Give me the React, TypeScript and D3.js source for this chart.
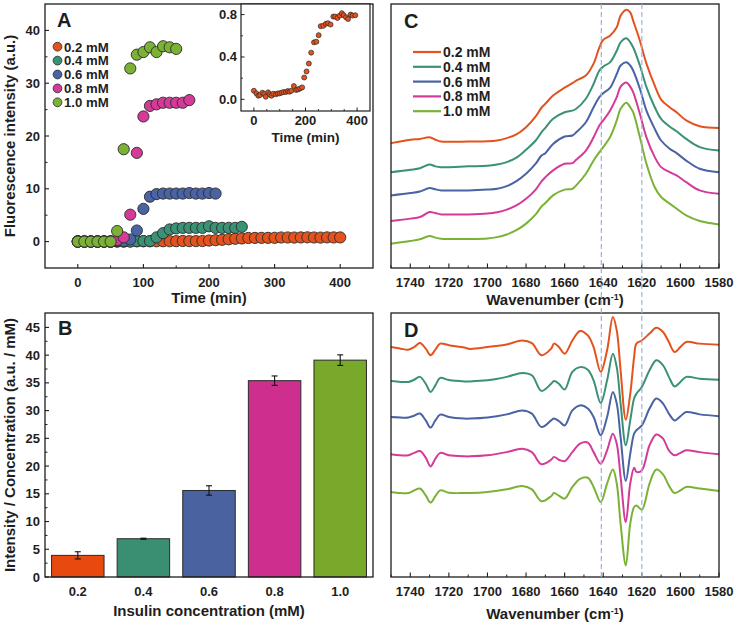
import React from 'react';
import * as d3 from 'd3';

// ---------- Panel A data ----------
const concLabels = ['0.2 mM', '0.4 mM', '0.6 mM', '0.8 mM', '1.0 mM'];
const barCats = ['0.2', '0.4', '0.6', '0.8', '1.0'];

const tA02 = [0,10,20,30,40,50,60,70,80,90,100,110,120,130,140,150,160,170,180,190,200,210,220,230,240,250,260,270,280,290,300,310,320,330,340,350,360,370,380,390,400];
const vA02 = [0.08,0.05,0.04,0.05,0.06,0.04,0.06,0.04,0.05,0.05,0.06,0.06,0.06,0.07,0.07,0.08,0.12,0.09,0.1,0.11,0.2,0.27,0.34,0.44,0.54,0.6,0.69,0.7,0.71,0.71,0.72,0.78,0.78,0.77,0.79,0.81,0.78,0.76,0.8,0.79,0.79];
const tA04 = [0,10,20,30,40,50,60,70,80,90,100,110,120,130,140,150,160,170,180,190,200,210,220,230,240,250];
const vA04 = [0,0,0,0,0,0,0,0,0,0.1,0.1,0.1,0.8,1.6,2.3,2.5,2.6,2.6,2.6,2.6,2.9,2.6,2.6,2.6,2.6,2.8];
const tA06 = [0,10,20,30,40,50,60,70,80,90,100,110,120,130,140,150,160,170,180,190,200,210];
const vA06 = [0,0,0,0,0,0,0.1,0.1,0.4,2.1,6.2,8.5,9.0,9.1,9.1,9.1,9.1,9.2,9.1,9.1,9.2,9.1];
const tA08 = [0,10,20,30,40,50,60,70,80,90,100,110,120,130,140,150,160,170];
const vA08 = [0,0,0,0,0,0,0.3,0.8,5.1,16.8,23.7,25.7,26.0,26.3,26.3,26.3,26.3,26.8];
const tA10 = [0,10,20,30,40,50,60,70,80,90,100,110,120,130,140,150];
const vA10 = [0,0,0,0,0,0,2.0,17.5,32.8,35.4,35.9,36.8,35.9,37.0,36.8,36.5];

// inset (0.2 mM)
const tInset = [0,10,17,24,33,40,46,55,61,68,75,85,92,99,107,115,124,131,138,145,155,164,172,179,187,195,204,213,222,233,242,251,259,269,279,287,297,308,315,324,333,341,348,357,365,375,383,393];
const vInset = [0.081,0.056,0.034,0.041,0.063,0.05,0.025,0.066,0.047,0.034,0.053,0.047,0.056,0.056,0.063,0.069,0.069,0.078,0.072,0.081,0.125,0.088,0.094,0.103,0.113,0.206,0.263,0.338,0.441,0.538,0.544,0.606,0.691,0.694,0.713,0.719,0.706,0.781,0.781,0.769,0.791,0.813,0.794,0.775,0.759,0.8,0.791,0.794];

// ---------- Panel B data ----------
const barValues = [3.9, 6.9, 15.6, 35.4, 39.1];
const barErrors = [0.65, 0.1, 0.85, 0.85, 0.95];

// ---------- Panel C data ----------
const wnC = [1750,1740,1735,1730,1727,1724,1720,1710,1700,1695,1690,1685,1680,1675,1672,1670,1666,1660,1656,1654,1649,1645,1642,1640,1636.5,1633,1631,1628,1626,1624.5,1621,1617.6,1613.3,1610,1605.6,1602,1597,1590,1580];
const c02 = [47.3,48.6,48.9,49.5,48.6,47.9,47.8,47.9,48.0,48.3,49.2,50.6,53.3,57.4,60.7,62.2,65.3,68.3,70.0,71.0,72.9,77.4,83.6,86.4,88.0,91.2,95.6,97.8,96.8,93.7,86.1,77.4,69.1,63.8,60.9,59.0,55.9,53.7,53.0];
const c04 = [36.3,37.2,37.8,39.2,38.5,38.2,38.2,38.5,38.7,39.2,40.1,41.8,44.8,48.3,51.4,53.1,56.5,59.0,59.6,60.3,64.1,69.7,74.8,76.3,77.9,82.3,85.5,87.0,85.5,83.6,76.7,68.5,60.9,56.5,53.6,51.8,48.9,45.8,44.5];
const c06 = [27.5,28.4,29.0,30.3,29.8,29.4,29.4,29.4,29.7,30.0,31.0,32.9,35.7,39.5,42.6,43.5,47.0,49.8,50.2,51.4,55.2,60.9,64.7,66.2,68.2,73.5,76.7,77.9,76.7,74.8,67.9,59.6,52.7,48.3,45.2,43.5,40.7,37.6,36.3];
const c08 = [17.8,18.7,19.3,21.2,20.8,20.3,20.3,20.3,20.6,21.1,22.1,23.7,26.2,29.7,32.8,34.4,37.0,39.5,39.7,41.0,44.5,49.5,54.0,55.9,59.6,64.7,68.7,70.3,68.7,66.6,58.4,49.5,42.0,38.2,36.3,35.1,32.5,29.4,28.1];
const c10 = [9.2,10.2,10.9,12.1,11.5,11.1,11.0,11.0,11.2,11.7,12.7,14.3,16.8,20.3,23.3,24.6,27.5,29.7,30.0,31.3,35.7,40.7,43.9,45.8,49.5,55.9,60.3,62.6,60.9,59.0,49.5,39.5,30.6,26.9,24.4,22.5,19.9,17.8,16.5];

// ---------- Panel D data ----------
const wnD = [1750,1745,1741,1738,1735,1732,1729.5,1727,1724.5,1720,1712,1709,1700,1690,1682,1677,1672,1667,1665.5,1663,1660,1656,1652,1648,1645,1641.3,1638,1635,1633,1631,1628.3,1626,1624,1622.8,1620,1616,1612.5,1609,1606,1603,1600,1597,1590,1580];
const d02 = [87.1,86.5,86.1,87.1,88.6,86.5,84.0,86.1,88.4,87.8,86.9,86.4,87.1,88.1,89.6,88.6,84.0,86.5,88.4,87.1,84.6,89.6,93.2,91.5,87.1,77.7,85.9,98.5,93.4,78.3,59.6,69.4,83.3,88.4,89.6,92.2,94.4,92.8,89.0,85.2,87.1,89.0,88.4,88.0];
const d04 = [74.2,73.9,73.9,74.7,75.8,73.2,70.1,72.6,75.4,74.6,74.1,74.1,74.5,75.8,77.3,76.4,70.5,73.2,74.2,73.2,71.0,77.7,79.5,78.5,74.5,65.9,74.5,84.6,79.5,65.7,49.9,59.3,67.6,69.4,72.0,78.3,82.1,80.2,75.8,72.2,73.9,75.8,75.1,74.7];
const d06 = [60.6,60.4,60.4,61.1,61.9,59.3,56.6,59.3,61.5,60.6,60.0,60.0,60.4,61.6,63.1,61.9,56.8,59.3,60.0,59.1,57.4,63.1,65.0,63.8,60.6,53.7,60.6,70.1,65.7,53.0,36.4,46.7,54.3,55.6,57.4,63.8,67.6,65.7,61.9,59.3,60.9,62.5,61.6,60.9];
const d08 = [46.5,46.1,46.1,47.0,47.7,45.2,41.9,44.8,47.0,46.1,45.7,45.7,46.1,47.3,48.6,47.3,42.7,44.4,45.5,44.4,43.9,47.3,50.5,50.9,47.3,42.9,48.0,54.3,50.5,37.9,20.8,35.4,41.4,39.8,40.4,49.9,54.0,52.4,48.0,46.1,47.0,48.0,47.3,46.5];
const d10 = [32.2,31.8,31.8,32.8,33.5,30.9,28.2,30.6,32.8,31.9,31.8,31.8,32.2,33.2,34.5,33.2,28.7,30.6,31.8,30.8,29.7,34.1,37.2,37.6,34.1,28.4,35.4,40.7,35.4,20.2,4.4,20.2,26.5,27.1,25.5,35.4,40.7,38.9,34.7,31.8,32.8,34.1,33.5,32.6];

const wnTicksMajor = [1740,1720,1700,1680,1660,1640,1620,1600,1580];
const wnTicksMinor = [1750,1730,1710,1690,1670,1650,1630,1610,1590];
const dashedWn = [1641, 1620];

const colors = ['#E4531E', '#3A9176', '#4A63A5', '#D43A98', '#7BB236'];
const barColors = ['#E8490F', '#3A8E72', '#4A62A0', '#CE2E8E', '#78A92A'];

const F = "'Liberation Sans', Arial, Helvetica, sans-serif";
const INK = '#1e1e1e';

function Frame({ x0, x1, y0, y1 }: any) {
  return <rect x={x0} y={y0} width={x1 - x0} height={y1 - y0} fill="none" stroke={INK} strokeWidth={1.3} />;
}

export default function App() {
  // Panel A
  const A = { x0: 45, x1: 373, y0: 4, y1: 268 };
  const xA = d3.scaleLinear().domain([-50, 450]).range([A.x0, A.x1]);
  const yA = d3.scaleLinear().domain([-5, 45]).range([A.y1, A.y0]);
  const seriesA = [
    { t: tA02, v: vA02 },
    { t: tA04, v: vA04 },
    { t: tA06, v: vA06 },
    { t: tA08, v: vA08 },
    { t: tA10, v: vA10 },
  ];
  // inset
  const I = { x0: 241, x1: 370, y0: 4, y1: 111 };
  const xI = d3.scaleLinear().domain([-50, 450]).range([I.x0, I.x1]);
  const yI = d3.scaleLinear().domain([-0.11, 0.9]).range([I.y1, I.y0]);

  // Panel B
  const B = { x0: 45, x1: 373, y0: 313, y1: 577 };
  const xB = d3.scaleBand().domain(barCats).range([B.x0, B.x1]).paddingInner(0.2).paddingOuter(0.1);
  const yB = d3.scaleLinear().domain([0, 47.6]).range([B.y1, B.y0]);

  // Panel C / D
  const C = { x0: 391, x1: 719, y0: 4, y1: 268 };
  const D = { x0: 391, x1: 719, y0: 313, y1: 577 };
  const xW = d3.scaleLinear().domain([1750, 1580]).range([C.x0, C.x1]);
  const yC = d3.scaleLinear().domain([0, 100]).range([C.y1, C.y0]);
  const yD = d3.scaleLinear().domain([0, 100]).range([D.y1, D.y0]);
  const cSeries = [c02, c04, c06, c08, c10];
  const dSeries = [d02, d04, d06, d08, d10];
  const lineC = (vals: number[]) =>
    d3.line<number>().x((_, i) => xW(wnC[i])).y((v) => yC(v)).curve(d3.curveCatmullRom.alpha(0.5))(vals) || '';
  const lineD = (vals: number[]) =>
    d3.line<number>().x((_, i) => xW(wnD[i])).y((v) => yD(v)).curve(d3.curveCatmullRom.alpha(0.5))(vals) || '';

  const tickFont = { fontFamily: F, fontWeight: 700, fontSize: 13, fill: INK } as any;
  const titleFont = { fontFamily: F, fontWeight: 700, fontSize: 15, fill: INK } as any;
  const letterFont = { fontFamily: F, fontWeight: 700, fontSize: 20, fill: INK } as any;

  return (
    <svg width={739} height={625} style={{ position: 'fixed', left: 0, top: 0, background: '#fff' }}>
      <rect x={0} y={0} width={739} height={625} fill="#fff" />

      {/* ================= Panel A ================= */}
      <g>
        {[0, 10, 20, 30, 40].map((v) => (
          <g key={'ay' + v}>
            <line x1={A.x0} x2={A.x0 + 4} y1={yA(v)} y2={yA(v)} stroke={INK} strokeWidth={1.1} />
            <text x={A.x0 - 5} y={yA(v) + 4.5} textAnchor="end" {...tickFont}>{v}</text>
          </g>
        ))}
        {[5, 15, 25, 35].map((v) => (
          <line key={'aym' + v} x1={A.x0} x2={A.x0 + 2.5} y1={yA(v)} y2={yA(v)} stroke={INK} strokeWidth={1} />
        ))}
        {[0, 100, 200, 300, 400].map((v) => (
          <g key={'ax' + v}>
            <line x1={xA(v)} x2={xA(v)} y1={A.y1} y2={A.y1 - 4} stroke={INK} strokeWidth={1.1} />
            <text x={xA(v)} y={A.y1 + 19} textAnchor="middle" {...tickFont}>{v}</text>
          </g>
        ))}
        {[50, 150, 250, 350].map((v) => (
          <line key={'axm' + v} x1={xA(v)} x2={xA(v)} y1={A.y1} y2={A.y1 - 2.5} stroke={INK} strokeWidth={1} />
        ))}
        {seriesA.map((s, si) => (
          <g key={'sa' + si}>
            {s.t.map((t, i) => (
              <circle key={i} cx={xA(t)} cy={yA(s.v[i])} r={5.6} fill={colors[si]} stroke="#2a2a2a" strokeWidth={0.9} />
            ))}
          </g>
        ))}
        <Frame {...A} />
        <text x={57} y={27} {...letterFont}>A</text>
        {concLabels.map((l, i) => (
          <g key={'la' + i}>
            <circle cx={57.5} cy={46.7 + i * 13.9} r={4.4} fill={colors[i]} stroke="#2a2a2a" strokeWidth={0.8} />
            <text x={64} y={46.7 + i * 13.9 + 4.8} fontFamily={F} fontWeight={700} fontSize={13.2} fill={INK}>{l}</text>
          </g>
        ))}
        <text x={(A.x0 + A.x1) / 2} y={303} textAnchor="middle" {...titleFont}>Time (min)</text>
        <text transform={`translate(15,${(A.y0 + A.y1) / 2}) rotate(-90)`} textAnchor="middle" {...titleFont}>
          Fluorescence intensity (a.u.)
        </text>

        {/* inset */}
        <rect x={I.x0} y={I.y0} width={I.x1 - I.x0} height={I.y1 - I.y0} fill="#fff" stroke={INK} strokeWidth={1.2} />
        {[0, 0.4, 0.8].map((v) => (
          <g key={'iy' + v}>
            <line x1={I.x0} x2={I.x0 + 3.5} y1={yI(v)} y2={yI(v)} stroke={INK} strokeWidth={1} />
            <text x={I.x0 - 4} y={yI(v) + 4.5} textAnchor="end" {...tickFont}>{v.toFixed(1)}</text>
          </g>
        ))}
        {[0.2, 0.6].map((v) => (
          <line key={'iym' + v} x1={I.x0} x2={I.x0 + 2} y1={yI(v)} y2={yI(v)} stroke={INK} strokeWidth={0.9} />
        ))}
        {[0, 200, 400].map((v) => (
          <g key={'ix' + v}>
            <line x1={xI(v)} x2={xI(v)} y1={I.y1} y2={I.y1 - 3.5} stroke={INK} strokeWidth={1} />
            <text x={xI(v)} y={I.y1 + 14} textAnchor="middle" {...tickFont}>{v}</text>
          </g>
        ))}
        {[50, 100, 150, 250, 300, 350].map((v) => (
          <line key={'ixm' + v} x1={xI(v)} x2={xI(v)} y1={I.y1} y2={I.y1 - 2} stroke={INK} strokeWidth={0.9} />
        ))}
        {tInset.map((t, i) => (
          <circle key={'ip' + i} cx={xI(t)} cy={yI(vInset[i])} r={2.5} fill={colors[0]} stroke="#2a2a2a" strokeWidth={0.7} />
        ))}
        <text x={(I.x0 + I.x1) / 2} y={142} textAnchor="middle" fontFamily={F} fontWeight={700} fontSize={13.5} fill={INK}>Time (min)</text>
      </g>

      {/* ================= Panel B ================= */}
      <g>
        {[0, 5, 10, 15, 20, 25, 30, 35, 40, 45].map((v) => (
          <g key={'by' + v}>
            <line x1={B.x0} x2={B.x0 + 4} y1={yB(v)} y2={yB(v)} stroke={INK} strokeWidth={1.1} />
            <text x={B.x0 - 5} y={yB(v) + 4.5} textAnchor="end" {...tickFont}>{v}</text>
          </g>
        ))}
        {[2.5, 7.5, 12.5, 17.5, 22.5, 27.5, 32.5, 37.5, 42.5].map((v) => (
          <line key={'bym' + v} x1={B.x0} x2={B.x0 + 2.5} y1={yB(v)} y2={yB(v)} stroke={INK} strokeWidth={1} />
        ))}
        {barCats.map((c, i) => {
          const x = xB(c) as number;
          const w = xB.bandwidth();
          const cx = x + w / 2;
          return (
            <g key={'bar' + c}>
              <rect x={x} y={yB(barValues[i])} width={w} height={yB(0) - yB(barValues[i])} fill={barColors[i]} stroke="#2a2a2a" strokeWidth={1} />
              <line x1={cx} x2={cx} y1={yB(barValues[i] - barErrors[i])} y2={yB(barValues[i] + barErrors[i])} stroke="#111" strokeWidth={1.1} />
              <line x1={cx - 3} x2={cx + 3} y1={yB(barValues[i] - barErrors[i])} y2={yB(barValues[i] - barErrors[i])} stroke="#111" strokeWidth={1.1} />
              <line x1={cx - 3} x2={cx + 3} y1={yB(barValues[i] + barErrors[i])} y2={yB(barValues[i] + barErrors[i])} stroke="#111" strokeWidth={1.1} />
              <text x={cx} y={B.y1 + 19} textAnchor="middle" {...tickFont}>{c}</text>
            </g>
          );
        })}
        <Frame {...B} />
        <text x={58} y={335} {...letterFont}>B</text>
        <text x={(B.x0 + B.x1) / 2} y={616} textAnchor="middle" {...titleFont}>Insulin concentration (mM)</text>
        <text transform={`translate(15,${(B.y0 + B.y1) / 2}) rotate(-90)`} textAnchor="middle" {...titleFont}>
          Intensity / Concentration (a.u. / mM)
        </text>
      </g>

      {/* ================= Panel C ================= */}
      <g>
        {cSeries.map((s, i) => (
          <path key={'c' + i} d={lineC(s)} fill="none" stroke={colors[i]} strokeWidth={2} />
        ))}
        {wnTicksMajor.map((w) => (
          <g key={'cx' + w}>
            <line x1={xW(w)} x2={xW(w)} y1={C.y1} y2={C.y1 - 4.5} stroke={INK} strokeWidth={1.1} />
            <text x={xW(w)} y={C.y1 + 19} textAnchor="middle" {...tickFont}>{w}</text>
          </g>
        ))}
        {wnTicksMinor.map((w) => (
          <line key={'cxm' + w} x1={xW(w)} x2={xW(w)} y1={C.y1} y2={C.y1 - 2.5} stroke={INK} strokeWidth={1} />
        ))}
        <Frame {...C} />
        <text x={404} y={28} {...letterFont}>C</text>
        {concLabels.map((l, i) => (
          <g key={'lc' + i}>
            <line x1={413} x2={441} y1={52 + i * 14.8} y2={52 + i * 14.8} stroke={colors[i]} strokeWidth={2.2} />
            <text x={443} y={52 + i * 14.8 + 5} fontFamily={F} fontWeight={700} fontSize={14} fill={INK}>{l}</text>
          </g>
        ))}
        <text x={(C.x0 + C.x1) / 2} y={305} textAnchor="middle" {...titleFont}>
          Wavenumber (cm<tspan dy={-5} fontSize={9}>-1</tspan><tspan dy={5}>)</tspan>
        </text>
      </g>

      {/* ================= Panel D ================= */}
      <g>
        {dSeries.map((s, i) => (
          <path key={'d' + i} d={lineD(s)} fill="none" stroke={colors[i]} strokeWidth={2} />
        ))}
        {wnTicksMajor.map((w) => (
          <g key={'dx' + w}>
            <line x1={xW(w)} x2={xW(w)} y1={D.y1} y2={D.y1 - 4.5} stroke={INK} strokeWidth={1.1} />
            <text x={xW(w)} y={D.y1 + 19} textAnchor="middle" {...tickFont}>{w}</text>
          </g>
        ))}
        {wnTicksMinor.map((w) => (
          <line key={'dxm' + w} x1={xW(w)} x2={xW(w)} y1={D.y1} y2={D.y1 - 2.5} stroke={INK} strokeWidth={1} />
        ))}
        <Frame {...D} />
        <text x={404} y={337} {...letterFont}>D</text>
        <text x={(D.x0 + D.x1) / 2} y={619} textAnchor="middle" {...titleFont}>
          Wavenumber (cm<tspan dy={-5} fontSize={9}>-1</tspan><tspan dy={5}>)</tspan>
        </text>
      </g>

      {/* dashed guide lines spanning C and D */}
      {dashedWn.map((w) => (
        <line key={'dash' + w} x1={xW(w)} x2={xW(w)} y1={C.y0} y2={D.y1} stroke="#9DB2D8" strokeWidth={1.2} strokeDasharray="5,3" />
      ))}
    </svg>
  );
}
